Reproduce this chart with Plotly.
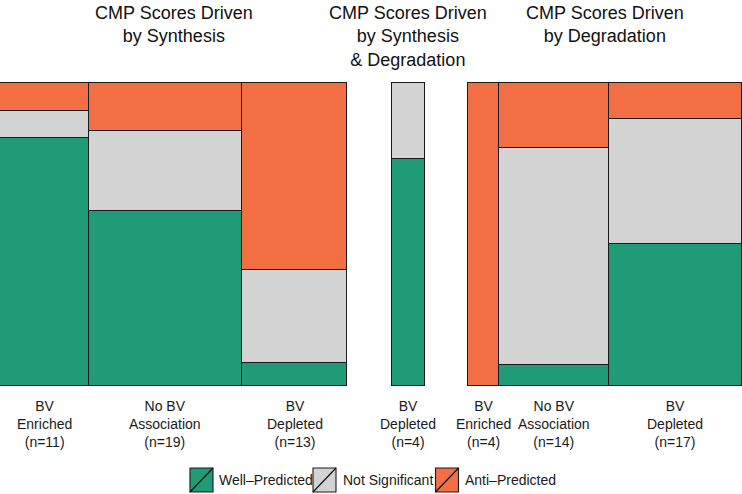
import plotly.graph_objects as go

# ---------------- data ----------------
statuses = ["Well–Predicted", "Not Significant", "Anti–Predicted"]
status_colors = ["#1F9C77", "#D3D3D3", "#F26F44"]

panel_titles = [
    "CMP Scores Driven<br>by Synthesis",
    "CMP Scores Driven<br>by Synthesis<br>& Degradation",
    "CMP Scores Driven<br>by Degradation",
]

syn_categories = ["BV<br>Enriched", "No BV<br>Association", "BV<br>Depleted"]
syn_well = [9, 11, 1]
syn_notsig = [1, 5, 4]
syn_anti = [1, 3, 8]

both_categories = ["BV<br>Depleted"]
both_well = [3]
both_notsig = [1]
both_anti = [0]

deg_categories = ["BV<br>Enriched", "No BV<br>Association", "BV<br>Depleted"]
deg_well = [0, 1, 8]
deg_notsig = [0, 10, 7]
deg_anti = [4, 3, 2]

panels = [
    (syn_categories, [syn_well, syn_notsig, syn_anti]),
    (both_categories, [both_well, both_notsig, both_anti]),
    (deg_categories, [deg_well, deg_notsig, deg_anti]),
]

# ---------------- layout geometry (pixels) ----------------
W, H = 742, 494
panel_px = [(0, 347), (391.7, 424.2), (468, 741.5)]
top_px, bot_px = 82.7, 386.0
FONT = "Liberation Sans, Arial, Helvetica, sans-serif"

fig = go.Figure()
layout_axes = {}
annotations = []

sy = (bot_px - top_px)
ypad = 1.0
layout_axes["yaxis"] = dict(
    domain=[1 - (bot_px + ypad) / H, 1 - (top_px - ypad) / H],
    range=[-ypad / sy, 1 + ypad / sy],
    visible=False, fixedrange=True,
)

for i, (cats, series) in enumerate(panels):
    n = [sum(v) for v in zip(*series)]
    total = sum(n)
    lefts = [sum(n[:k]) for k in range(len(n))]
    centers = [l + w / 2 for l, w in zip(lefts, n)]
    L, R = panel_px[i]
    s = (R - L) / total
    dlo = max(0.0, (L - 1) / W)
    dhi = min(1.0, (R + 1) / W)
    rlo = -(L - dlo * W) / s
    rhi = total + (dhi * W - R) / s
    axname = "xaxis" if i == 0 else f"xaxis{i+1}"
    xref = "x" if i == 0 else f"x{i+1}"
    layout_axes[axname] = dict(domain=[dlo, dhi], range=[rlo, rhi],
                               visible=False, fixedrange=True, anchor="y")
    for vals, name, col in zip(series, statuses, status_colors):
        frac = [v / t for v, t in zip(vals, n)]
        fig.add_trace(go.Bar(
            x=centers, y=frac, width=n, name=name,
            marker=dict(color=col, line=dict(color="#1a1a1a", width=1.1)),
            xaxis=xref, yaxis="y", showlegend=False,
            hovertemplate=name + ": %{y:.0%}<extra></extra>",
        ))
    # category labels
    for c, cat, cnt in zip(centers, cats, n):
        annotations.append(dict(
            x=c, xref=xref, y=1 - 423.5 / H, yref="paper",
            text=f"{cat}<br>(n={cnt})", showarrow=False,
            xanchor="center", yanchor="middle",
            font=dict(family=FONT, size=14, color="#1a1a1a"),
        ))
    # panel title
    nlines = panel_titles[i].count("<br>") + 1
    annotations.append(dict(
        x=total / 2, xref=xref, y=1 - (12.8 + 23.4 * (nlines - 1) / 2) / H, yref="paper",
        text=panel_titles[i], showarrow=False, xanchor="center", yanchor="middle",
        font=dict(family=FONT, size=18, color="#111111"),
    ))

# ---------------- custom legend (box with diagonal) ----------------
shapes = []
leg_boxes = [(190, 213), (313, 336), (435.5, 458.5)]
leg_text_x = [217, 341, 463]
lb_top, lb_bot = 468, 492
for (x0, x1), tx, name, col in zip(leg_boxes, leg_text_x, statuses, status_colors):
    shapes.append(dict(type="rect", xref="paper", yref="paper",
                       x0=x0 / W, x1=x1 / W, y0=1 - lb_bot / H, y1=1 - lb_top / H,
                       fillcolor=col, line=dict(color="#1a1a1a", width=1.1)))
    shapes.append(dict(type="line", xref="paper", yref="paper",
                       x0=x0 / W, x1=x1 / W, y0=1 - lb_bot / H, y1=1 - lb_top / H,
                       line=dict(color="#111111", width=1.2)))
    annotations.append(dict(
        x=tx / W, xref="paper", y=1 - 480 / H, yref="paper", text=name,
        showarrow=False, xanchor="left", yanchor="middle",
        font=dict(family=FONT, size=14, color="#1a1a1a"),
    ))

fig.update_layout(
    width=W, height=H,
    margin=dict(l=0, r=0, t=0, b=0, pad=0),
    barmode="stack", bargap=0,
    paper_bgcolor="white", plot_bgcolor="white",
    showlegend=False,
    annotations=annotations, shapes=shapes,
    **layout_axes,
)

fig.write_html(
    "out.html",
    config={"displayModeBar": False},
    post_script="document.body.style.margin='0';document.body.style.overflow='hidden';",
)
